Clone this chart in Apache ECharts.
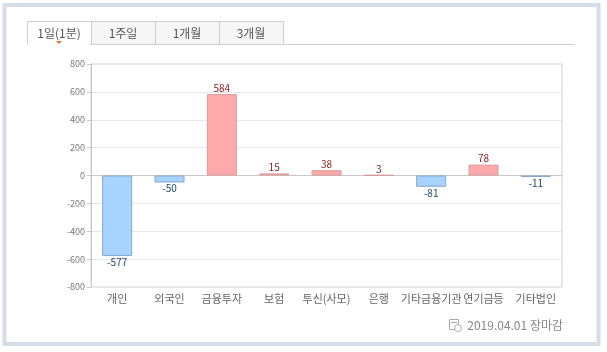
<!DOCTYPE html>
<html><head><meta charset="utf-8">
<script src="https://cdn.jsdelivr.net/npm/echarts@6/dist/echarts.min.js"></script>
<style>html,body{margin:0;padding:0;background:#fff}#c{width:607px;height:352px}</style>
</head><body><div id="c"></div>
<script>
const categories = ['개인','외국인','금융투자','보험','투신(사모)','은행','기타금융기관','연기금등','기타법인'];
const values = [-577,-50,584,15,38,3,-81,78,-11];
const yTicks = [-800,-600,-400,-200,0,200,400,600,800];
const tabs = ['1일(1분)','1주일','1개월','3개월'];
const footerText = '2019.04.01 장마감';

const FONT = '"Noto Sans CJK KR", "Noto Sans", sans-serif';
const chart = echarts.init(document.getElementById('c'), null, {renderer:'canvas'});

const data = values.map(v => ({
  value: v,
  itemStyle: v >= 0 ? {color:'#ffaaaa', borderColor:'#d89a9a', borderWidth:1}
                    : {color:'#a9d3ff', borderColor:'#86a9cc', borderWidth:1},
  label: {show:true, position: v >= 0 ? 'top' : 'bottom', distance: 1,
          color: v >= 0 ? '#8a1c1c' : '#1c4a6a', fontSize: 10, fontFamily: FONT}
}));

const tabX = [27,91,155,219,283];
const graphics = [
  {type:'rect', shape:{x:4.5,y:5,width:594,height:339}, style:{fill:'none', stroke:'#d3dee8', lineWidth:4}, z:0},
  {type:'line', shape:{x1:27,y1:44.5,x2:575,y2:44.5}, style:{stroke:'#cfcfcf', lineWidth:1}}
];
tabs.forEach((t,i) => {
  const x0 = tabX[i], x1 = tabX[i+1];
  graphics.push({type:'rect', shape:{x:x0+0.5,y:21.5,width:x1-x0,height:23},
    style:{fill: i===0 ? '#ffffff' : '#f6f6f6', stroke:'#cfcfcf', lineWidth:1}});
  graphics.push({type:'text', x:(x0+x1)/2, y:33,
    style:{text:t, fill:'#555', font:'12px '+FONT, textAlign:'center', textVerticalAlign:'middle'}});
});
graphics.push({type:'line', shape:{x1:28,y1:44.5,x2:90,y2:44.5}, style:{stroke:'#ffffff', lineWidth:1}});
graphics.push({type:'polygon', shape:{points:[[56,41],[62,41],[59,44]]}, style:{fill:'#e8792c'}});
// footer icon
graphics.push({type:'rect', shape:{x:449.5,y:319.5,width:9,height:10}, style:{fill:'none', stroke:'#aaa', lineWidth:1}});
graphics.push({type:'line', shape:{x1:451,y1:322.5,x2:457,y2:322.5}, style:{stroke:'#aaa', lineWidth:1}});
graphics.push({type:'circle', shape:{cx:458,cy:328,r:3.5}, style:{fill:'#fff', stroke:'#aaa', lineWidth:1}});
graphics.push({type:'text', x:563, y:325,
  style:{text:footerText, fill:'#888', font:'12px '+FONT, textAlign:'right', textVerticalAlign:'middle'}});

chart.setOption({
  animation:false,
  textStyle:{fontFamily:FONT},
  grid:{left:91, right:45, top:64, bottom:65, show:true, borderColor:'#d0d0d0', borderWidth:1, backgroundColor:'transparent'},
  xAxis:{type:'category', data:categories,
    axisLine:{lineStyle:{color:'#c8c8c8'}},
    axisTick:{alignWithLabel:true, length:4, lineStyle:{color:'#c8c8c8'}},
    axisLabel:{color:'#666', fontSize:11, margin:6, interval:0, fontFamily:FONT}},
  yAxis:{type:'value', min:yTicks[0], max:yTicks[yTicks.length-1], interval:200,
    axisLine:{show:true, lineStyle:{color:'#c8c8c8'}},
    axisTick:{show:true, length:4, lineStyle:{color:'#c8c8c8'}},
    axisLabel:{color:'#777', fontSize:9, margin:6, fontFamily:FONT},
    splitLine:{lineStyle:{color:'#e8e8e8'}}},
  series:[{type:'bar', data:data, barWidth:30}],
  graphic:graphics
});
</script></body></html>
